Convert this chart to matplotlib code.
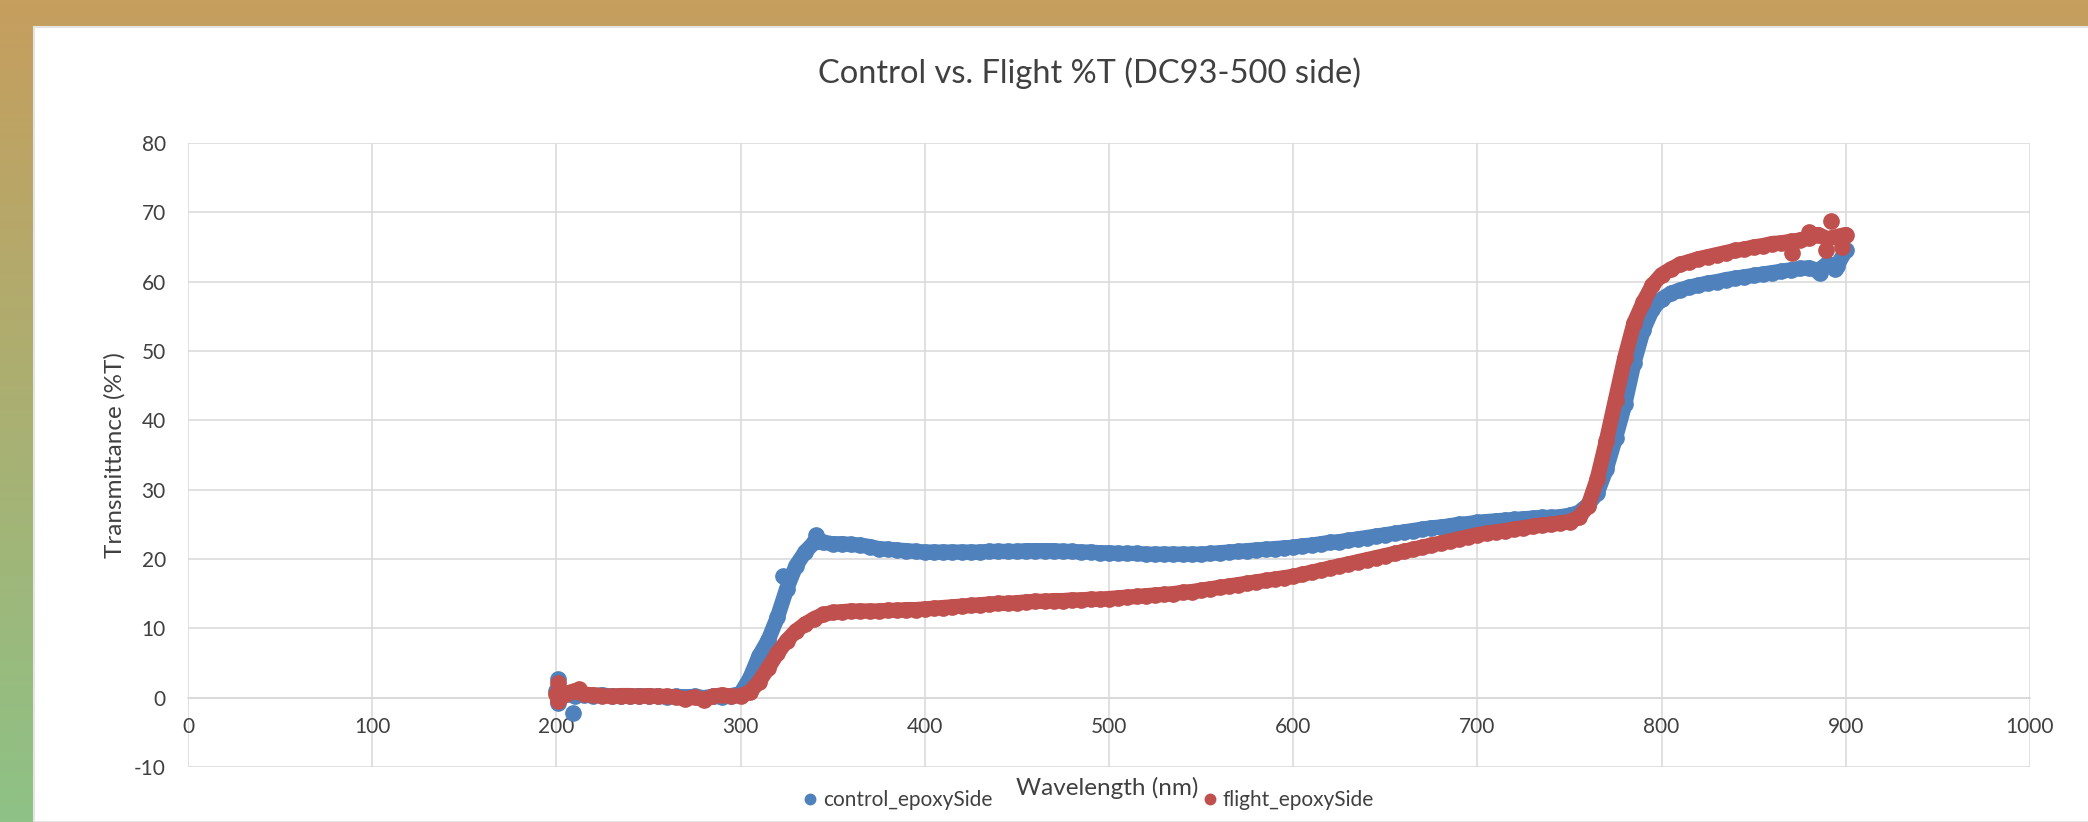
import matplotlib
matplotlib.use("Agg")
import matplotlib.pyplot as plt
import numpy as np
from matplotlib.lines import Line2D
from matplotlib.patches import Rectangle

# wavelength grid (nm), 5 nm step from 200 to 900
wavelength = list(range(200, 905, 5))

# %T, one value per wavelength above
control_T = [
    1.0, 0.5, 0.3, 0.4, 0.3, 0.4, 0.2, 0.3, 0.2, 0.3,          # 200-245
    0.2, 0.2, 0.1, 0.2, 0.1, 0.2, 0.0, 0.2, 0.1, 0.3,          # 250-295
    0.6, 2.8, 6.0, 8.3, 11.6, 15.7, 19.0, 21.0, 22.4, 22.4,    # 300-345
    22.2, 22.2, 22.1, 22.0, 21.8, 21.5, 21.4, 21.3, 21.2, 21.1,  # 350-395
    21.0, 21.0, 21.0, 21.0, 21.0, 21.0, 21.0, 21.1, 21.1, 21.1,  # 400-445
    21.1, 21.2, 21.2, 21.2, 21.2, 21.1, 21.1, 21.0, 21.0, 20.9,  # 450-495
    20.9, 20.8, 20.8, 20.8, 20.7, 20.7, 20.7, 20.7, 20.7, 20.7,  # 500-545
    20.7, 20.8, 20.9, 21.0, 21.1, 21.2, 21.3, 21.4, 21.5, 21.6,  # 550-595
    21.7, 21.9, 22.0, 22.2, 22.4, 22.5, 22.7, 22.9, 23.1, 23.3,  # 600-645
    23.5, 23.7, 23.9, 24.1, 24.3, 24.5, 24.6, 24.8, 25.0, 25.1,  # 650-695
    25.3, 25.4, 25.5, 25.6, 25.7, 25.8, 25.9, 26.0, 26.0, 26.1,  # 700-745
    26.3, 26.7, 27.8, 29.5, 33.0, 37.5, 42.3, 48.3, 53.0, 56.0,  # 750-795
    57.5, 58.3, 58.8, 59.2, 59.5, 59.8, 60.0, 60.3, 60.5, 60.7,  # 800-845
    60.9, 61.1, 61.3, 61.5, 61.7, 61.9, 62.0, 61.6, 62.6, 62.2,  # 850-895
    64.5,                                                        # 900
]

flight_T = [
    0.5, 0.6, 1.0, 0.5, 0.4, 0.3, 0.2, 0.3, 0.3, 0.2,          # 200-245
    0.3, 0.2, 0.2, 0.1, -0.2, 0.1, -0.3, 0.2, 0.4, 0.2,        # 250-295
    0.3, 0.8, 2.3, 4.3, 6.4, 8.2, 9.6, 10.6, 11.4, 12.0,       # 300-345
    12.3, 12.4, 12.5, 12.5, 12.5, 12.5, 12.6, 12.6, 12.7, 12.7,  # 350-395
    12.8, 12.9, 13.0, 13.1, 13.2, 13.3, 13.4, 13.5, 13.6, 13.6,  # 400-445
    13.7, 13.8, 13.9, 13.9, 14.0, 14.0, 14.1, 14.1, 14.2, 14.2,  # 450-495
    14.3, 14.4, 14.5, 14.6, 14.7, 14.8, 14.9, 15.0, 15.2, 15.3,  # 500-545
    15.5, 15.7, 15.9, 16.1, 16.3, 16.5, 16.7, 16.9, 17.1, 17.3,  # 550-595
    17.5, 17.8, 18.1, 18.4, 18.7, 19.0, 19.3, 19.6, 19.9, 20.2,  # 600-645
    20.5, 20.8, 21.1, 21.4, 21.7, 22.0, 22.3, 22.6, 22.9, 23.2,  # 650-695
    23.5, 23.7, 23.9, 24.1, 24.3, 24.5, 24.7, 24.9, 25.0, 25.2,  # 700-745
    25.4, 26.0, 27.6, 31.5, 37.0, 43.0, 49.0, 54.0, 57.0, 59.5,  # 750-795
    61.0, 61.8, 62.5, 62.9, 63.3, 63.6, 63.9, 64.2, 64.5, 64.7,  # 800-845
    65.0, 65.2, 65.5, 65.6, 65.8, 66.0, 66.3, 66.8, 66.2, 66.5,  # 850-895
    66.8,                                                        # 900
]

# scattered / noisy points that stick out of the bands
control_extra_wl = [201, 201, 209, 323, 341, 886, 894]
control_extra_T = [2.7, -0.7, -2.2, 17.6, 23.5, 61.3, 61.8]
flight_extra_wl = [201, 201, 212, 871, 880, 889, 892, 898]
flight_extra_T = [2.1, -0.5, 1.2, 64.2, 67.1, 64.5, 68.8, 65.0]

series_names = ["control_epoxySide", "flight_epoxySide"]
blue = "#4F81BD"
red = "#C0504D"
text_col = "#404040"
grid_col = "#D9D9D9"

plt.rcParams["font.family"] = ["Lato", "DejaVu Sans"]
plt.rcParams["axes.unicode_minus"] = False

W, H = 2088, 822
fig = plt.figure(figsize=(W / 100, H / 100), dpi=100)

# tan -> green frame behind the white chart panel
bg = fig.add_axes([0, 0, 1, 1], zorder=-1)
bg.axis("off")
top_rgb = np.array([198, 158, 94]) / 255
bot_rgb = np.array([142, 194, 134]) / 255
t = np.linspace(0, 1, 200)[:, None]
grad = (top_rgb * (1 - t) + bot_rgb * t)[:, None, :]
bg.imshow(grad, aspect="auto", extent=[0, 1, 0, 1])
bg.add_patch(Rectangle((34 / W, 0), 1, 1 - 27 / H, transform=bg.transAxes,
                       facecolor="white", edgecolor="#E4E4E4", lw=1.5))
bg.set_xlim(0, 1)
bg.set_ylim(0, 1)

ax = fig.add_axes([188 / W, 1 - 767 / H, (2030 - 188) / W, (767 - 143) / H])
ax.set_facecolor("white")

ms = 11
ax.plot(wavelength, control_T, color=blue, lw=ms, marker="o", ms=ms,
        solid_capstyle="round", solid_joinstyle="round", zorder=3)
ax.plot(control_extra_wl, control_extra_T, "o", color=blue, ms=ms, zorder=3)
ax.plot(wavelength, flight_T, color=red, lw=ms, marker="o", ms=ms,
        solid_capstyle="round", solid_joinstyle="round", zorder=4)
ax.plot(flight_extra_wl, flight_extra_T, "o", color=red, ms=ms, zorder=4)

ax.set_xlim(0, 1000)
ax.set_ylim(-10, 80)
ax.set_xticks(range(0, 1001, 100))
ax.set_yticks(range(-10, 81, 10))
ax.grid(True, color=grid_col, lw=1.1)
ax.set_axisbelow(True)
for s in ["top", "right", "left"]:
    ax.spines[s].set_visible(False)
ax.spines["bottom"].set_position(("data", 0))
ax.spines["bottom"].set_color(grid_col)
ax.spines["bottom"].set_linewidth(1.1)
ax.tick_params(axis="both", length=0, labelsize=15, labelcolor=text_col)
ax.tick_params(axis="y", pad=16)
ax.tick_params(axis="x", pad=14)

ax.set_ylabel("Transmittance (%T)", fontsize=17.5, color=text_col)
ax.yaxis.set_label_coords((126 - 188) / (2030 - 188), 0.5)

fig.text(1107 / W, 1 - 788 / H, "Wavelength (nm)", ha="center", va="center",
         fontsize=17.5, color=text_col)
fig.text(1089 / W, 1 - 73 / H, "Control vs. Flight %T (DC93-500 side)",
         ha="center", va="center", fontsize=23.5, color=text_col)

for name, col, xpos in [(series_names[0], blue, 804), (series_names[1], red, 1204)]:
    h = Line2D([], [], ls="none", marker="o", ms=7.5, color=col)
    fig.legend([h], [name], loc="center left", bbox_to_anchor=(xpos / W, 1 - 800 / H),
               frameon=False, fontsize=15, handlelength=0.6, handletextpad=0.3,
               borderpad=0, borderaxespad=0, labelcolor=text_col)

fig.savefig("out.png", dpi=100)
